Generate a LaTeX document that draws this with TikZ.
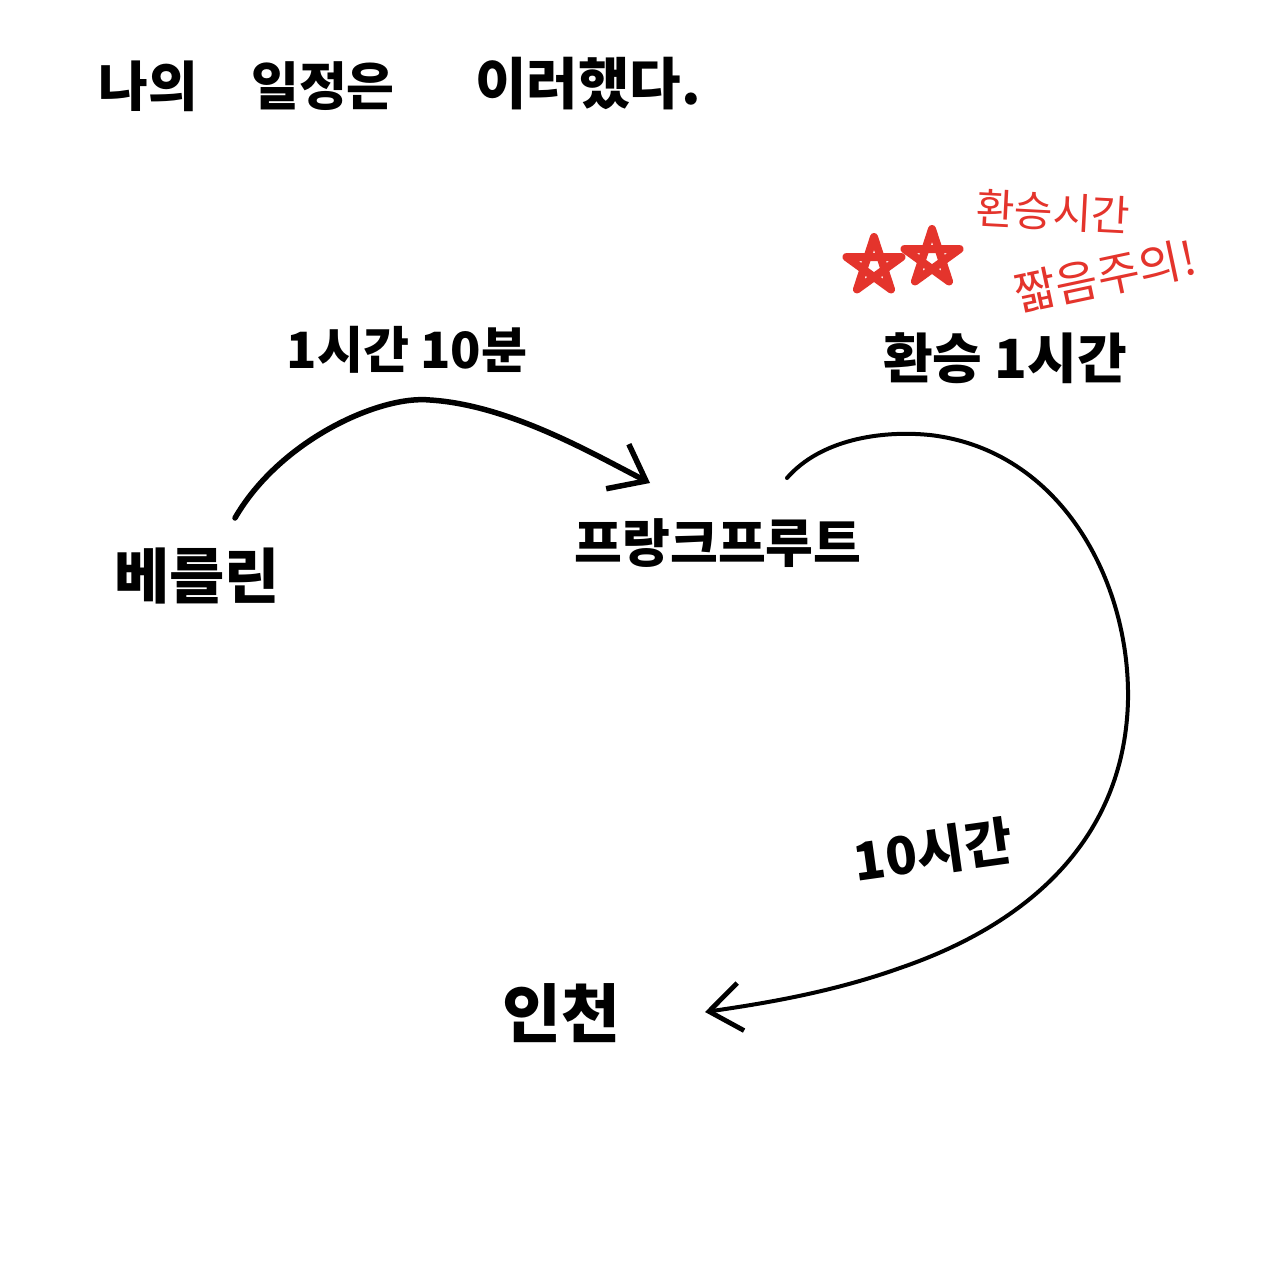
\documentclass[tikz,border=0pt]{standalone}
\usepackage{fontspec}
\setmainfont{Noto Sans CJK KR}
\usetikzlibrary{arrows.meta,calc}
\definecolor{inkred}{RGB}{228,52,44}
\tikzset{
  hand/.style={inner sep=0pt, text=black, font=\bfseries},
  redhand/.style={inner sep=0pt, text=inkred},
  flow/.style={line width=5.5pt, line cap=round, draw=black,
    -{Straight Barb[length=32pt,width=50pt,line width=5.5pt]}},
  flowthin/.style={line width=4pt, line cap=round, draw=black,
    -{Straight Barb[length=32pt,width=48pt,line width=4.8pt]}},
  starmark/.style={draw=inkred, line width=8pt, line join=round, line cap=round}
}
\newcommand{\fsz}[1]{\fontsize{#1}{#1}\selectfont\bfseries}
\begin{document}
\begin{tikzpicture}[x=1pt,y=-1pt]
\useasboundingbox[fill=white] (0,0) rectangle (1280,1280);
% title
\node[hand, font=\fsz{54}] (t1) at (148,86) {나의};
\node[hand, font=\fsz{52}] (t2) at (323,86) {일정은};
\node[hand, font=\fsz{56}] (t3) at (588,84) {이러했다.};
% places
\node[hand, font=\fsz{60}] (berlin) at (197,576) {베를린};
\node[hand, font=\fsz{52}] (frank) at (718,543) {프랑크프루트};
\node[hand, font=\fsz{64}] (incheon) at (561,1013) {인천};
% labels
\node[hand, font=\fsz{50}] (l1) at (407,350) {1시간 10분};
\node[hand, font=\fsz{54}] (l2) at (1005,358) {환승 1시간};
\node[hand, font=\fsz{52}, rotate=8] (l3) at (933,851) {10시간};
\node[redhand, font=\fontsize{42}{42}\selectfont, rotate=-3] (r1) at (1053,212) {환승시간};
\node[redhand, font=\fontsize{46}{46}\selectfont, rotate=12] (r2) at (1105,276) {짧음주의!};
% stars
\foreach \cx/\cy/\nm in {874/266/sa, 932/258/sb}{
  \coordinate (\nm) at (\cx,\cy);
  \draw[starmark] (\cx,\cy-29)
    -- (\cx+0.588*29,\cy+0.809*29)
    -- (\cx-0.951*29,\cy-0.309*29)
    -- (\cx+0.951*29,\cy-0.309*29)
    -- (\cx-0.588*29,\cy+0.809*29) -- cycle;
}
% connector end points
\coordinate (a1s) at ($(berlin)+(38,-58)$);
\coordinate (a1e) at ($(frank)+(-68,-60)$);
\coordinate (a2s) at ($(frank)+(69,-65)$);
\coordinate (a2e) at ($(incheon)+(144,-1)$);
% connectors
\draw[flow] (a1s) .. controls ($(a1s)+(45,-78)$) and ($(a1s)+(145,-123)$) .. ($(a1s)+(195,-118)$)
  .. controls ($(a1s)+(275,-113)$) and ($(a1e)+(-55,-28)$) .. (a1e);
\draw[flowthin] (a2s) .. controls ($(a2s)+(33,-38)$) and ($(a2s)+(93,-48)$) .. ($(a2s)+(143,-43)$)
  .. controls ($(a2s)+(273,-28)$) and (1130,580) .. (1128,700)
  .. controls (1125,830) and (1040,920) .. (900,968)
  .. controls (830,993) and ($(a2e)+(55,-8)$) .. (a2e);
\end{tikzpicture}
\end{document}
